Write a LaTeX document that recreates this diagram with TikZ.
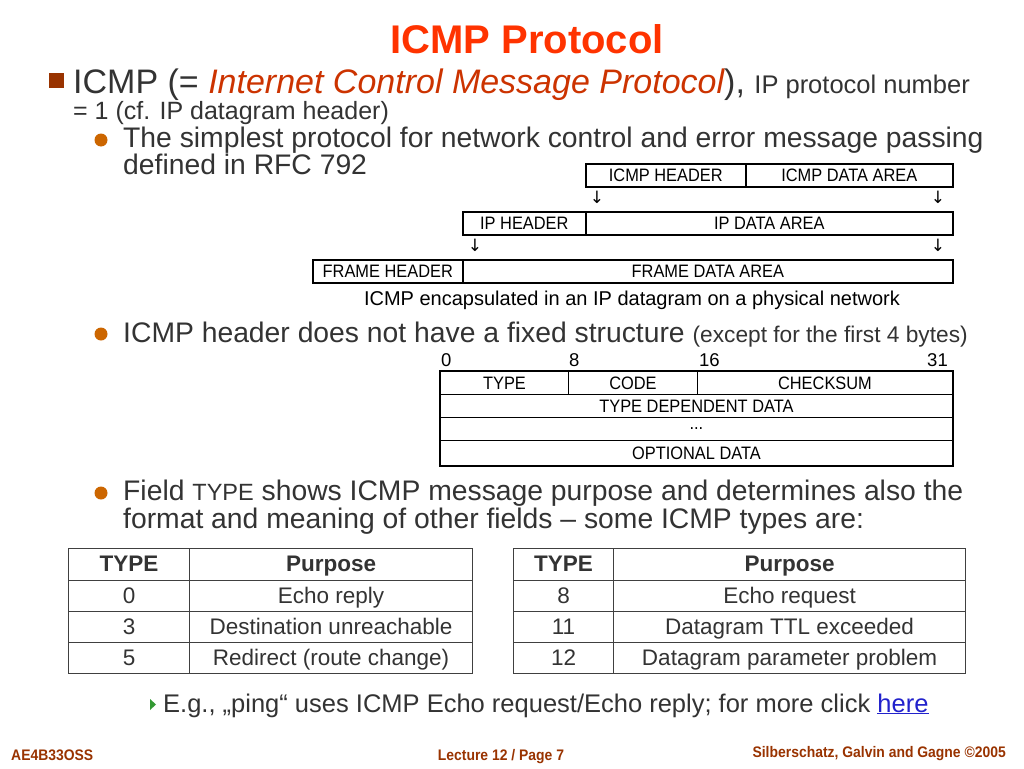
\documentclass[tikz,border=0pt]{standalone}
\usepackage{fontspec}
\setmainfont{Liberation Sans}
\newfontfamily\narrowfont[FakeStretch=0.91]{Liberation Sans}
\newfontfamily\dejavu{DejaVu Sans}
\definecolor{titlered}{HTML}{FF3300}
\definecolor{italred}{HTML}{CC3300}
\definecolor{sqbrown}{HTML}{993300}
\definecolor{dotorange}{HTML}{CC6600}
\definecolor{bodygray}{HTML}{333333}
\definecolor{tablegray}{HTML}{404040}
\definecolor{footbrown}{HTML}{993300}
\definecolor{linkblue}{HTML}{2222CC}
\definecolor{trigreen}{HTML}{339933}
\begin{document}
\begin{tikzpicture}[x=1pt,y=-1pt,
  txt/.style={anchor=base west, inner sep=0, text=bodygray},
  cell/.style={draw=black, line width=1.6pt, inner sep=0, anchor=north west,
    font=\narrowfont\fontsize{18}{20}\selectfont, text=black},
  hcell/.style={draw=black, line width=0.9pt, inner sep=0, anchor=north west,
    font=\narrowfont\fontsize{18}{20}\selectfont, text=black},
  tcell/.style={draw=tablegray, line width=1.1pt, inner sep=0, anchor=north west,
    text height=17pt, text depth=3pt,
    font=\fontsize{22.5}{24}\selectfont, text=bodygray},
  thead/.style={tcell, font=\bfseries\fontsize{22.5}{24}\selectfont},
  dnarrow/.style={font=\dejavu\fontsize{17}{17}\selectfont, inner sep=0, text=black},
  bitnum/.style={inner sep=0, font=\fontsize{18.5}{20}\selectfont, text=black},
  foot/.style={inner sep=0, anchor=base, text=footbrown,
    font=\narrowfont\bfseries\fontsize{15.3}{17}\selectfont}
]
\useasboundingbox[fill=white] (0,0) rectangle (1024,768);

% title
\node[inner sep=0, anchor=base, text=titlered, font=\bfseries\fontsize{40}{42}\selectfont] (title) at (527,54) {ICMP Protocol};

% bullet 1
\fill[sqbrown] (49,73) rectangle (64,88);
\node[txt, font=\fontsize{34}{36}\selectfont] (b1) at (73,93)
  {ICMP (= \textcolor{italred}{\itshape Internet Control Message Protocol}), {\fontsize{25.5}{27}\selectfont IP protocol number}};
\node[txt, font=\fontsize{25}{27}\selectfont] (b1b) at (73,119) {= 1 (cf. IP datagram header)};

% sub bullet 1
\fill[dotorange] (101,140) circle (6.5);
\node[txt, font=\fontsize{28.3}{30}\selectfont] (s1a) at (123,147) {The simplest protocol for network control and error message passing};
\node[txt, font=\fontsize{28.3}{30}\selectfont] (s1b) at (123,174) {defined in RFC 792};

% encapsulation
\node[cell, minimum width=160, minimum height=23] (ich) at (585,163) {ICMP HEADER};
\node[cell, minimum width=207, minimum height=23] (icd) at (745,163) {ICMP DATA AREA};
\node[dnarrow] (a1) at (597,197) {↓};
\node[dnarrow] (a2) at (938,197) {↓};
\node[cell, minimum width=123, minimum height=23] (iph) at (462,211) {IP HEADER};
\node[cell, minimum width=367, minimum height=23] (ipd) at (585,211) {IP DATA AREA};
\node[dnarrow] (a3) at (475,245) {↓};
\node[dnarrow] (a4) at (938,245) {↓};
\node[cell, minimum width=150, minimum height=23] (frh) at (312,259) {FRAME HEADER};
\node[cell, minimum width=490, minimum height=23] (frd) at (462,259) {FRAME DATA AREA};
\node[inner sep=0, anchor=base, text=black, font=\fontsize{20}{22}\selectfont] (cap) at (632,305)
  {ICMP encapsulated in an IP datagram on a physical network};

% bullet 2
\fill[dotorange] (101,334) circle (6.5);
\node[txt, font=\fontsize{28.3}{30}\selectfont] (s2) at (123,342)
  {ICMP header does not have a fixed structure {\fontsize{22.7}{24}\selectfont (except for the first 4 bytes)}};

% header layout
\node[bitnum, anchor=base west] (n0) at (441,366) {0};
\node[bitnum, anchor=base west] (n8) at (569,366) {8};
\node[bitnum, anchor=base west] (n16) at (699,366) {16};
\node[bitnum, anchor=base east] (n31) at (948,366) {31};
\node[hcell, minimum width=128, minimum height=23] (htype) at (440,371) {TYPE};
\node[hcell, minimum width=129, minimum height=23] (hcode) at (568,371) {CODE};
\node[hcell, minimum width=255, minimum height=23] (hcks) at (697,371) {CHECKSUM};
\node[hcell, minimum width=512, minimum height=23] (hdep) at (440,394) {TYPE DEPENDENT DATA};
\node[hcell, minimum width=512, minimum height=23] (hdots) at (440,417) {...};
\node[hcell, minimum width=512, minimum height=25] (hopt) at (440,440) {OPTIONAL DATA};
\draw[line width=2.4pt] (htype.north west) rectangle (hopt.south east);

% bullet 3
\fill[dotorange] (101,493) circle (6.5);
\node[txt, font=\fontsize{28.3}{30}\selectfont] (s3a) at (123,500)
  {Field {\fontsize{23.5}{24}\selectfont TYPE} shows ICMP message purpose and determines also the};
\node[txt, font=\fontsize{28.3}{30}\selectfont] (s3b) at (123,528)
  {format and meaning of other fields – some ICMP types are:};

% left table
\node[thead, minimum width=121, minimum height=32] (lt0) at (68,548) {TYPE};
\node[thead, minimum width=283, minimum height=32] (lp0) at (189,548) {Purpose};
\node[tcell, minimum width=121, minimum height=31] (lt1) at (68,580) {0};
\node[tcell, minimum width=283, minimum height=31] (lp1) at (189,580) {Echo reply};
\node[tcell, minimum width=121, minimum height=31] (lt2) at (68,611) {3};
\node[tcell, minimum width=283, minimum height=31] (lp2) at (189,611) {Destination unreachable};
\node[tcell, minimum width=121, minimum height=31] (lt3) at (68,642) {5};
\node[tcell, minimum width=283, minimum height=31] (lp3) at (189,642) {Redirect (route change)};

% right table
\node[thead, minimum width=100, minimum height=32] (rt0) at (513,548) {TYPE};
\node[thead, minimum width=352, minimum height=32] (rp0) at (613,548) {Purpose};
\node[tcell, minimum width=100, minimum height=31] (rt1) at (513,580) {8};
\node[tcell, minimum width=352, minimum height=31] (rp1) at (613,580) {Echo request};
\node[tcell, minimum width=100, minimum height=31] (rt2) at (513,611) {11};
\node[tcell, minimum width=352, minimum height=31] (rp2) at (613,611) {Datagram TTL exceeded};
\node[tcell, minimum width=100, minimum height=31] (rt3) at (513,642) {12};
\node[tcell, minimum width=352, minimum height=31] (rp3) at (613,642) {Datagram parameter problem};

% example line
\fill[trigreen] (150,699) -- (156,704.5) -- (150,710) -- cycle;
\node[txt, font=\fontsize{25.5}{27}\selectfont] (eg) at (163,712)
  {E.g., „ping“ uses ICMP Echo request/Echo reply; for more click \textcolor{linkblue}{\underline{here}}};

% footer
\node[foot, anchor=base west] (f1) at (11,760) {AE4B33OSS};
\node[foot] (f2) at (501,760) {Lecture 12 / Page 7};
\node[foot, anchor=base east] (f3) at (1006,757) {Silberschatz, Galvin and Gagne ©2005};
\end{tikzpicture}
\end{document}
